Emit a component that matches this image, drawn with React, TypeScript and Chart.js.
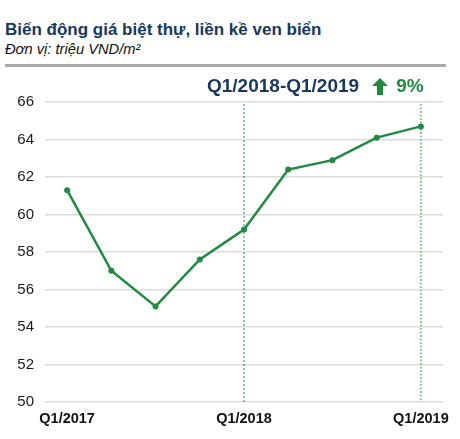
import { useEffect, useRef } from "react";
import { Chart, registerables, Plugin } from "chart.js";

Chart.register(...registerables);

const quarters = [
  "Q1/2017",
  "Q2/2017",
  "Q3/2017",
  "Q4/2017",
  "Q1/2018",
  "Q2/2018",
  "Q3/2018",
  "Q4/2018",
  "Q1/2019",
];
const prices = [61.3, 57.0, 55.1, 57.6, 59.2, 62.4, 62.9, 64.1, 64.7];
const shownTicks = ["Q1/2017", "Q1/2018", "Q1/2019"];
const markerQuarters = ["Q1/2018", "Q1/2019"];

const GREEN = "#1f8a40";
const NAVY = "#17375e";
const FONT = "Arial, 'Liberation Sans', sans-serif";

// dotted vertical guides at the start and end of the compared period
const markerLines: Plugin<"line"> = {
  id: "markerLines",
  beforeDatasetsDraw(chart) {
    const { ctx, chartArea, scales } = chart;
    markerQuarters.forEach((q, i) => {
      const px = scales.x.getPixelForValue(quarters.indexOf(q));
      ctx.save();
      ctx.beginPath();
      ctx.setLineDash(i === 0 ? [2, 2] : [2, 1.5]);
      ctx.lineWidth = i === 0 ? 1 : 2;
      ctx.strokeStyle = i === 0 ? GREEN : "#92c9a0";
      ctx.moveTo(px, chartArea.top + 2);
      ctx.lineTo(px, chartArea.bottom);
      ctx.stroke();
      ctx.restore();
    });
  },
};

const PriceChart = () => {
  const chartRef = useRef<HTMLCanvasElement | null>(null);

  useEffect(() => {
    if (!chartRef.current) return;
    const ctx = chartRef.current.getContext("2d");
    if (!ctx) return;

    const chartInstance = new Chart(ctx, {
      type: "line",
      data: {
        labels: quarters,
        datasets: [
          {
            data: prices,
            borderColor: GREEN,
            backgroundColor: GREEN,
            borderWidth: 2.5,
            pointRadius: 3,
            pointBorderWidth: 0,
            tension: 0,
          },
        ],
      },
      options: {
        animation: false,
        responsive: true,
        maintainAspectRatio: false,
        layout: { padding: { top: 2, right: 17, left: 0, bottom: 0 } },
        plugins: {
          legend: { display: false },
          tooltip: { enabled: false },
        },
        scales: {
          x: {
            offset: true,
            grid: { display: false, drawTicks: false },
            border: { display: false },
            ticks: {
              autoSkip: false,
              maxRotation: 0,
              padding: 8,
              color: "#111",
              font: { family: FONT, size: 14.5, weight: "bold" },
              callback: (_v, i) =>
                shownTicks.includes(quarters[i]) ? quarters[i] : "",
            },
            afterFit: (s) => {
              s.height = 37;
            },
          },
          y: {
            min: 50,
            max: 66,
            ticks: {
              stepSize: 2,
              padding: 11,
              color: "#1a1a1a",
              font: { family: FONT, size: 15 },
            },
            grid: { color: "#dcdcdc", lineWidth: 1.5, drawTicks: false },
            border: { display: false },
            afterFit: (s) => {
              s.width = 45;
            },
          },
        },
      },
      plugins: [markerLines],
    });

    return () => {
      chartInstance.destroy();
    };
  }, []);

  return <canvas ref={chartRef}></canvas>;
};

const App = () => {
  return (
    <div
      style={{
        position: "absolute",
        top: 0,
        left: 0,
        width: 460,
        height: 439,
        background: "#fff",
        fontFamily: FONT,
      }}
    >
      <div
        style={{
          position: "absolute",
          left: 5,
          top: 20,
          fontSize: 17,
          fontWeight: "bold",
          color: NAVY,
          whiteSpace: "nowrap",
        }}
      >
        Biến động giá biệt thự, liền kề ven biển
      </div>
      <div
        style={{
          position: "absolute",
          left: 5,
          top: 41,
          fontSize: 14.7,
          fontStyle: "italic",
          color: "#111",
          whiteSpace: "nowrap",
        }}
      >
        Đơn vị: triệu VND/m²
      </div>
      <div
        style={{
          position: "absolute",
          left: 5,
          top: 64,
          width: 441,
          height: 3,
          background: "#a9a9a9",
        }}
      />
      <div
        style={{
          position: "absolute",
          left: 0,
          top: 82,
          width: 460,
          height: 357,
        }}
      >
        <PriceChart />
      </div>
      <div
        style={{
          position: "absolute",
          left: 207,
          top: 75,
          fontSize: 19,
          fontWeight: "bold",
          color: NAVY,
          whiteSpace: "nowrap",
          display: "flex",
          alignItems: "center",
        }}
      >
        <span>Q1/2018-Q1/2019</span>
        <svg width="16" height="17" viewBox="0 0 16 17" style={{ marginLeft: 13 }}>
          <polygon points="8,0 16,8 11,8 11,17 5,17 5,8 0,8" fill={GREEN} />
        </svg>
        <span style={{ color: GREEN, marginLeft: 8 }}>9%</span>
      </div>
    </div>
  );
};

export default App;
